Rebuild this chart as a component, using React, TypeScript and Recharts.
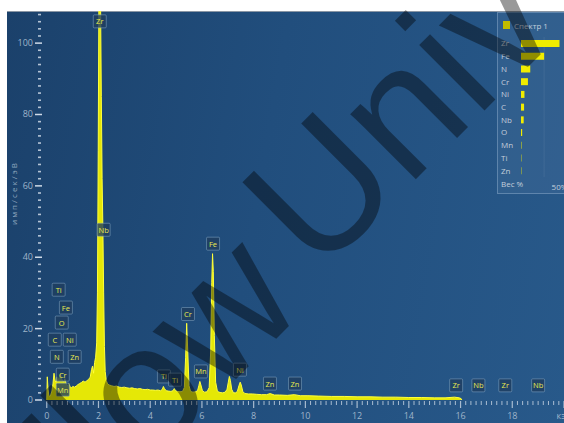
import { ComposedChart, Area, Scatter, XAxis, YAxis, BarChart, Bar, CartesianGrid } from 'recharts';

// spectrum, keV vs counts
const energy = [
  0, 0.02, 0.05, 0.08, 0.12, 0.16, 0.2, 0.24, 0.28, 0.32, 0.36, 0.39, 0.42, 0.46, 0.5, 0.53, 0.57, 0.61, 0.65, 0.7,
  0.75, 0.8, 0.85, 0.9, 0.95, 1.01, 1.07, 1.14, 1.2, 1.27, 1.34, 1.41, 1.48, 1.55, 1.62, 1.68, 1.73, 1.77, 1.81, 1.85,
  1.89, 1.93, 1.96, 1.99, 2.02, 2.05, 2.08, 2.11, 2.14, 2.17, 2.2, 2.23, 2.26, 2.3, 2.35, 2.42, 2.5, 2.6, 2.7, 2.8,
  2.9, 3.0, 3.1, 3.2, 3.3, 3.4, 3.5, 3.6, 3.7, 3.8, 3.9, 4.0, 4.1, 4.2, 4.3, 4.4, 4.47, 4.51, 4.55, 4.62,
  4.7, 4.8, 4.88, 4.93, 4.98, 5.05, 5.15, 5.25, 5.32, 5.37, 5.41, 5.45, 5.5, 5.56, 5.65, 5.75, 5.83, 5.88, 5.92, 5.96,
  6.02, 6.1, 6.2, 6.28, 6.34, 6.38, 6.41, 6.44, 6.48, 6.53, 6.6, 6.7, 6.8, 6.9, 6.97, 7.02, 7.06, 7.1, 7.15, 7.22,
  7.3, 7.37, 7.43, 7.48, 7.52, 7.58, 7.66, 7.8, 7.95, 8.1, 8.3, 8.5, 8.64, 8.8, 9.0, 9.3, 9.57, 9.8, 10.1, 10.5,
  11.0, 11.5, 12.0, 12.5, 13.0, 13.5, 14.0, 14.5, 15.0, 15.4, 15.77, 15.95, 16.02, 16.05,
];
const counts = [
  0, 6.5, 3, 1.2, 1.0, 1.6, 2.5, 4.5, 7.5, 5.5, 5, 6.5, 5.5, 6, 6.5, 7.5, 6, 5.5, 5, 6,
  4.5, 4, 4.6, 3.8, 3.4, 3.8, 3.6, 3.9, 4.3, 4.6, 4.9, 5.3, 5.0, 5.4, 5.8, 6.4, 8.5, 9.5, 7.5, 10.5,
  12, 16, 30, 70, 118, 125, 112, 85, 62, 48, 30, 15, 8, 5.5, 4.5, 4.2, 4.0, 3.8, 3.9, 3.6,
  3.5, 3.6, 3.4, 3.3, 3.4, 3.2, 3.1, 3.2, 3.0, 2.9, 3.0, 2.8, 2.8, 2.7, 2.8, 2.6, 3.0, 3.8, 3.2, 2.6,
  2.5, 2.4, 2.6, 3.2, 2.6, 2.4, 2.3, 2.4, 3.5, 12, 21.5, 14, 4, 2.4, 2.2, 2.3, 2.6, 4, 5.2, 4.2,
  2.6, 2.2, 2.3, 3.5, 14, 33, 41, 36, 18, 5, 2.4, 2.1, 2.0, 2.2, 3, 5, 6.6, 5.5, 3, 2.0,
  2.0, 2.4, 4, 5, 4.2, 2.4, 1.8, 1.7, 1.7, 1.6, 1.5, 1.5, 1.8, 1.4, 1.4, 1.3, 1.5, 1.2, 1.2, 1.1,
  1.0, 1.0, 0.9, 0.9, 0.8, 0.8, 0.7, 0.7, 0.6, 0.6, 0.8, 0.6, 0.4, 0,
];

// peak markers: element, energy, level where the tag sits
const peakNames = ['Zr', 'Nb', 'Ti', 'Fe', 'O', 'C', 'Ni', 'N', 'Zn', 'Cr', 'Mn', 'Ti', 'Ti', 'Cr', 'Mn', 'Fe', 'Ni', 'Zn', 'Zn', 'Zr', 'Nb', 'Zr', 'Nb'];
const peakEnergy = [2.05, 2.2, 0.46, 0.74, 0.58, 0.31, 0.89, 0.39, 1.08, 0.62, 0.62, 4.53, 4.96, 5.46, 5.96, 6.43, 7.47, 8.63, 9.6, 15.83, 16.69, 17.73, 19.0];
const peakLevel = [104, 45.6, 28.8, 23.8, 19.6, 14.8, 14.8, 10, 10, 5, 0.8, 4.5, 3.6, 22, 5.9, 41.7, 6.4, 2.5, 2.5, 2, 2, 2, 2];

// weight % panel
const elements = ['Zr', 'Fe', 'N', 'Cr', 'Ni', 'C', 'Nb', 'O', 'Mn', 'Ti', 'Zn'];
const weights = [50, 30, 12, 9, 4.5, 4, 3.5, 1.5, 0.6, 0.5, 0.5];

const spectrum = energy.map((e, i) => ({ e, c: counts[i] }));
const peaks = peakNames.map((name, i) => ({ name, e: peakEnergy[i], c: peakLevel[i] }));
const wt = elements.map((name, i) => ({ name, w: weights[i] }));

const xTicks: number[] = [];
for (let i = 0; i <= 100; i++) xTicks.push(Math.round(i * 2) / 10);
const yTicks: number[] = [];
for (let i = 0; i <= 54; i++) yTicks.push(i * 2);

const tickColor = '#9fb4ca';
const font = '"Open Sans", "Liberation Sans", sans-serif';

const XTick = (p: any) => {
  const { x, y, payload } = p;
  const v = payload.value;
  const major = Math.abs(v / 2 - Math.round(v / 2)) < 1e-6;
  return (
    <g>
      <line x1={x} x2={x} y1={y + 1} y2={y + (major ? 8 : 5)} stroke="#c9d6e4" strokeOpacity={0.8} strokeWidth={major ? 1.2 : 1} />
      {major && (
        <text x={x} y={y + 19} textAnchor="middle" fill={tickColor} fontSize={9} fontFamily={font}>
          {v === 20 ? 'кэВ' : v}
        </text>
      )}
    </g>
  );
};

const YTick = (p: any) => {
  const { x, y, payload } = p;
  const v = payload.value;
  const major = v % 20 === 0;
  if (major) {
    return (
      <g>
        <line x1={x - 4} x2={x + 3} y1={y} y2={y} stroke="#d0dbe8" strokeWidth={1.5} />
        <text x={x - 6} y={y + 3} textAnchor="end" fill={tickColor} fontSize={9} fontFamily={font}>{v}</text>
      </g>
    );
  }
  return <rect x={x - 1} y={y - 0.8} width={3} height={1.6} fill="#d0dbe8" fillOpacity={0.85} />;
};

const PeakTag = (p: any) => {
  const { cx, cy, payload } = p;
  const w = 13;
  return (
    <g>
      <rect x={cx - w / 2} y={cy - 14} width={w} height={13} fill="#1f3d5f" fillOpacity={0.8} stroke="#8fb0cc" strokeOpacity={0.6} strokeWidth={0.8} rx={1} />
      <text x={cx} y={cy - 4.5} textAnchor="middle" fill="#eaea50" fontSize={7.5} fontFamily={font}>{payload.name}</text>
    </g>
  );
};

const WtTick = (p: any) => {
  const { y, payload } = p;
  return (
    <text x={3} y={y + 3} fill="#c3cedb" fontSize={8} fontFamily={font}>{payload.value}</text>
  );
};

export default function App() {
  return (
    <>
      <div style={{ position: 'absolute', left: 7, top: 11, width: 557, height: 412, overflow: 'hidden', fontFamily: font,
        background: 'linear-gradient(100deg, #1b416b 0%, #214e7d 45%, #28598a 100%)' }}>
        <div style={{ position: 'absolute', left: 0, top: 0, width: 557, height: 1, background: '#8a96a4' }} />
        <ComposedChart width={557} height={412} data={spectrum} margin={{ top: 0, right: 0, bottom: 0, left: 0 }}>
          <XAxis dataKey="e" type="number" domain={[-0.3, 20]} ticks={xTicks} interval={0} tick={<XTick />}
            tickLine={false} axisLine={false} tickSize={0} tickMargin={0} height={23} allowDataOverflow />
          <YAxis dataKey="c" type="number" domain={[0, 109]} ticks={yTicks} interval={0} tick={<YTick />}
            tickLine={false} axisLine={false} tickSize={0} tickMargin={0} width={32} allowDataOverflow />
          <Area type="linear" dataKey="c" stroke="#ffff3a" strokeWidth={1} fill="#f0f000" fillOpacity={0.95} isAnimationActive={false} />
          <Scatter data={peaks} dataKey="c" shape={<PeakTag />} isAnimationActive={false} />
        </ComposedChart>

        <div style={{ position: 'absolute', left: 490, top: 1, width: 80, height: 180, background: 'rgba(80,120,160,0.28)',
          border: '1px solid rgba(150,180,210,0.45)' }}>
          <div style={{ position: 'absolute', left: 5, top: 8, width: 7, height: 8, background: '#c2bc00' }} />
          <div style={{ position: 'absolute', left: 16, top: 7, color: '#c3cedb', fontSize: 8 }}>Спектр 1</div>
          <div style={{ position: 'absolute', left: 0, top: 24 }}>
            <BarChart layout="vertical" width={100} height={154} data={wt} margin={{ top: 0, right: 0, bottom: 0, left: 0 }} barCategoryGap={3}>
              <CartesianGrid horizontal={false} stroke="#ffffff" strokeOpacity={0.07} verticalValues={[5, 10, 15, 20, 25, 30, 35, 40, 45, 50, 55, 60, 65, 70, 75]} />
              <XAxis type="number" domain={[0, 100]} ticks={[50]} tickFormatter={(v: number) => v + '%'} axisLine={false} tickLine={false}
                tick={{ fill: '#c3cedb', fontSize: 8, fontFamily: font }} height={14} tickMargin={1} />
              <YAxis type="category" dataKey="name" width={23} axisLine={false} tickLine={false} tick={<WtTick />} interval={0} />
              <Bar dataKey="w" fill="#f0ec00" barSize={7} isAnimationActive={false} />
            </BarChart>
          </div>
          <div style={{ position: 'absolute', left: 3, top: 165, color: '#c3cedb', fontSize: 8 }}>Вес %</div>
        </div>
      </div>

      <svg width={564} height={423} style={{ position: 'absolute', left: 0, top: 0, pointerEvents: 'none' }}>
        <text x={17} y={194} transform="rotate(-90 17 194)" textAnchor="middle" fontSize={8} textLength={62}
          fill="#8ea6bf" fontFamily={font}>имп/сек/эВ</text>
        <g fontSize={175} fontFamily="Liberation Sans" fill="#000" fillOpacity={0.4}>
          <text x={46} y={569} transform="rotate(-45 46 569)">Flow</text>
          <text x={318} y={277} transform="rotate(-45 318 277)">Univ</text>
        </g>
      </svg>
    </>
  );
}
